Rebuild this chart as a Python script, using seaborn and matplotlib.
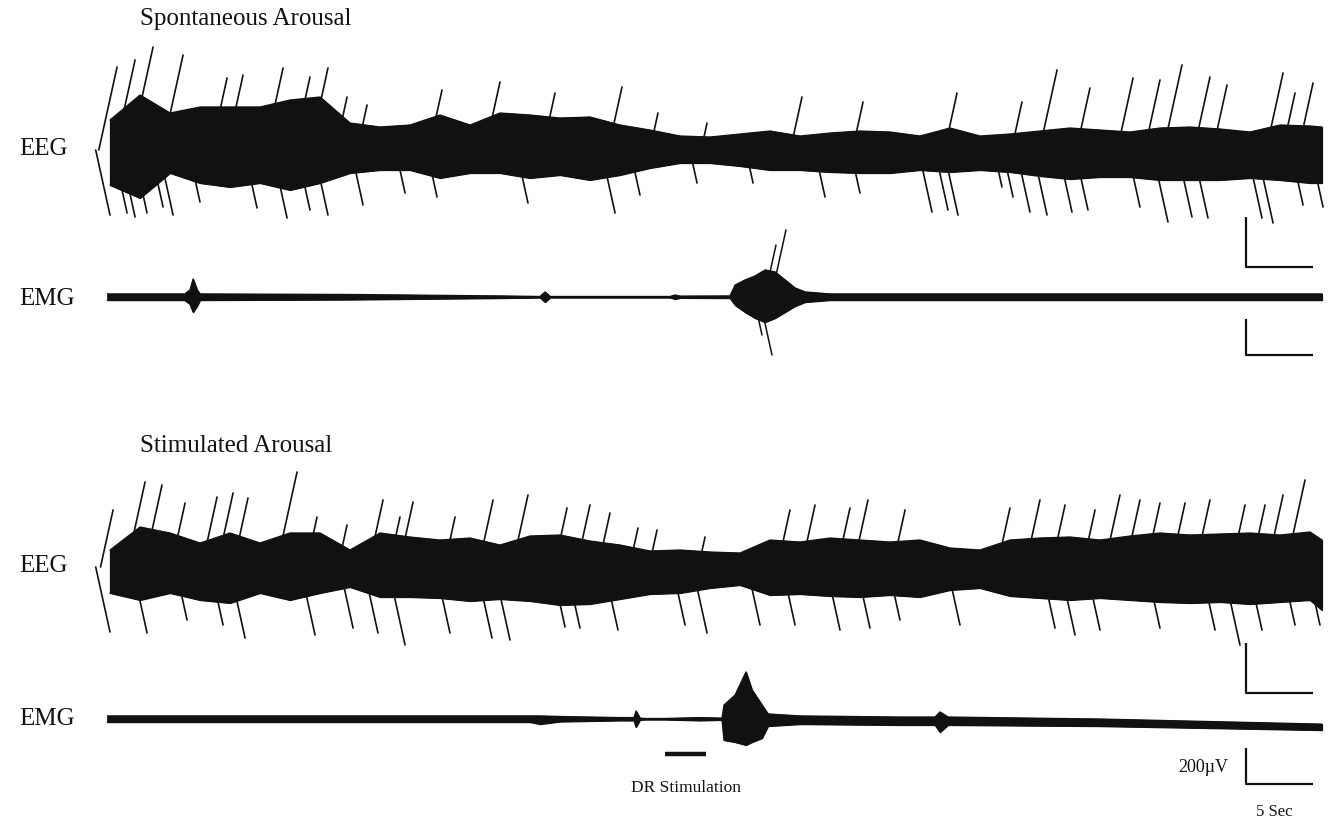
import numpy as np
import pandas as pd
import matplotlib
matplotlib.use("Agg")
import matplotlib.pyplot as plt
import seaborn as sns

# ---------------- data (time in s, amplitude in µV) ----------------
ENV_T = [0, 2.25, 4.5, 6.75, 9, 11.25, 13.5, 15.75, 18, 20.25, 22.5, 24.75, 27,
         29.25, 31.5, 33.75, 36, 38.25, 40.5, 42.75, 45, 47.25, 49.5, 51.75, 54,
         56.25, 58.5, 60.75, 63, 65.25, 67.5, 69.75, 72, 74.25, 76.5, 78.75, 81,
         83.25, 85.5, 87.75, 90, 90.9]

EEG1_TOP = [120, 220, 148, 172, 172, 172, 200, 212, 108, 92, 100, 140, 100, 148,
            140, 128, 132, 100, 80, 56, 52, 64, 76, 56, 68, 76, 72, 56, 88, 56,
            64, 76, 88, 80, 72, 88, 92, 84, 72, 100, 96, 92]
EEG1_BOT = [-140, -192, -92, -132, -148, -132, -160, -132, -92, -80, -80, -112,
            -92, -92, -112, -100, -120, -100, -72, -52, -52, -64, -80, -80, -88,
            -92, -92, -80, -88, -80, -88, -104, -116, -108, -108, -120, -120,
            -120, -112, -120, -132, -132]
EEG1_UP_T = [0.53, 1.88, 3.23, 5.48, 8.78, 9.98, 12.98, 15.0, 16.35, 17.78, 19.28,
             24.9, 29.25, 33.38, 38.4, 41.1, 44.78, 51.9, 56.48, 63.53, 68.4,
             71.03, 73.5, 76.73, 78.75, 80.4, 82.5, 83.78, 87.98, 88.88, 90.23]
EEG1_UP_A = [332, 360, 412, 380, 288, 300, 328, 292, 328, 212, 180, 240, 272, 228,
             252, 148, 108, 212, 192, 228, 192, 320, 248, 288, 280, 340, 292, 260,
             308, 228, 268]
EEG1_DN_T = [0.0, 1.28, 1.88, 2.78, 3.98, 4.73, 6.75, 11.03, 13.28, 15.0, 16.35,
             18.98, 22.13, 24.53, 31.35, 37.88, 39.75, 44.03, 48.23, 53.63, 56.25,
             61.65, 62.85, 63.6, 66.9, 67.73, 69.0, 70.28, 72.15, 73.35, 77.25,
             79.35, 81.15, 82.35, 86.4, 87.23, 89.48, 90.98]
EEG1_DN_A = [-260, -252, -268, -252, -228, -260, -208, -232, -272, -240, -260,
             -220, -172, -188, -212, -252, -180, -132, -132, -188, -172, -248,
             -240, -260, -148, -188, -248, -260, -248, -240, -228, -288, -268,
             -272, -272, -292, -220, -228]

EMG1_T = [-0.2, 5.6, 6.0, 6.23, 6.53, 6.75, 18.0, 29.25, 32.25, 32.63, 33.0, 42.0,
          42.38, 42.75, 46.5, 46.88, 47.63, 48.38, 49.13, 49.88, 50.63, 51.38,
          52.13, 54.0, 90.9]
EMG1_TOP = [17, 17, 39, 99, 39, 17, 14, 6, 3, 28, 3, 3, 11, 5, 6, 66, 94, 116, 149,
            138, 94, 50, 28, 17, 17]
EMG1_BOT = [-17, -17, -39, -83, -50, -17, -14, -6, -3, -28, -3, -3, -11, -5, -6,
            -44, -83, -116, -138, -116, -83, -50, -28, -17, -17]
EMG1_SPK_T = [48.9, 49.65, 49.95, 50.7]
EMG1_SPK_A = [-209, -319, 286, 369]

EEG2_TOP = [68, 160, 136, 96, 136, 96, 136, 136, 68, 136, 120, 108, 116, 88, 124,
            128, 104, 88, 64, 68, 60, 56, 108, 100, 116, 108, 100, 108, 76, 68,
            108, 116, 120, 108, 124, 136, 128, 132, 136, 128, 140, 108]
EEG2_BOT = [-104, -132, -104, -132, -144, -104, -132, -104, -80, -120, -120, -124,
            -136, -128, -136, -152, -148, -128, -108, -104, -84, -72, -112, -108,
            -116, -120, -112, -120, -92, -84, -116, -124, -132, -124, -132, -140,
            -144, -140, -148, -140, -132, -172]
EEG2_UP_T = [0.23, 2.63, 3.9, 5.63, 8.03, 9.23, 10.35, 14.03, 15.53, 17.78, 20.48,
             21.75, 22.73, 25.88, 28.73, 31.35, 34.28, 36.0, 37.5, 39.6, 41.03,
             44.63, 51.0, 52.88, 55.5, 56.85, 59.63, 67.5, 69.75, 71.63, 73.88,
             75.75, 77.25, 78.75, 80.63, 82.5, 85.13, 86.63, 87.98, 89.63]
EEG2_UP_A = [228, 340, 328, 256, 280, 296, 276, 380, 200, 168, 268, 200, 260, 200,
             268, 288, 236, 248, 216, 156, 148, 120, 228, 248, 236, 268, 228, 236,
             268, 248, 228, 288, 268, 256, 256, 268, 248, 248, 288, 348]
EEG2_DN_T = [0.0, 2.78, 5.78, 8.48, 10.13, 15.38, 18.23, 20.1, 22.13, 25.5, 28.65,
             30.0, 34.13, 35.25, 38.1, 43.13, 44.78, 48.75, 51.38, 54.75, 57.0,
             59.25, 63.75, 70.88, 72.38, 74.25, 78.75, 82.88, 84.75, 86.4, 88.88,
             90.75]
EEG2_DN_A = [-260, -264, -212, -232, -284, -272, -244, -264, -312, -264, -284,
             -292, -240, -244, -252, -232, -264, -232, -232, -252, -244, -212,
             -232, -244, -272, -252, -244, -252, -312, -252, -232, -232]

EMG2_T = [-0.2, 14.25, 31.5, 32.25, 33.75, 38.25, 39.3, 39.45, 39.75, 40.13, 41.63,
          44.25, 45.9, 46.05, 46.88, 47.7, 48.15, 48.9, 49.35, 51.75, 59.25, 61.88,
          62.25, 62.85, 74.25, 90.9]
EMG2_TOP = [17, 17, 17, 17, 14, 8, 8, 44, 5, 3, 3, 8, 5, 77, 132, 259, 160, 77, 28,
            17, 11, 11, 39, 11, 0, -28]
EMG2_BOT = [-17, -17, -17, -28, -14, -8, -8, -44, -5, -3, -3, -8, -5, -116, -127,
            -143, -127, -105, -39, -28, -33, -33, -72, -33, -39, -61]

STIM_ON, STIM_OFF = 41.6, 44.7
SCALE_T = 5        # s
SCALE_UV = 200     # µV

# ---------------- layout ----------------
W, H = 1334, 819
PX_PER_S = 13.333
T0_PX = 110

sns.set_theme(style="white")
plt.rcParams['font.family'] = ['Liberation Serif', 'DejaVu Serif']
INK = "#111111"

fig = plt.figure(figsize=(W / 100, H / 100), dpi=100)
fig.patch.set_facecolor("white")


def make_ax(center, top, bottom, uv_per_px):
    ax = fig.add_axes([0, (H - bottom) / H, 1, (bottom - top) / H])
    ax.set_xlim(-T0_PX / PX_PER_S, (W - T0_PX) / PX_PER_S)
    ax.set_ylim(-(bottom - center) * uv_per_px, (center - top) * uv_per_px)
    ax.axis("off")
    ax.patch.set_alpha(0)
    ax.uvpp = uv_per_px
    return ax


def band(ax, t, top, bot):
    ax.fill_between(t, bot, top, color=INK, lw=0.9, edgecolor=INK)
    df = pd.DataFrame({"t": list(t) + list(t),
                       "uv": list(top) + list(bot),
                       "edge": ["top"] * len(t) + ["bot"] * len(t)})
    sns.lineplot(data=df, x="t", y="uv", units="edge", estimator=None,
                 sort=False, color=INK, lw=0.9, ax=ax, legend=False)


def spikes(ax, ts, amps, lw=1.2):
    rows = []
    for i, (t, a) in enumerate(zip(ts, amps)):
        slant = 0.22 * abs(a) / ax.uvpp / PX_PER_S
        rows.append((i, t - slant, 0.0))
        rows.append((i, t, a))
    df = pd.DataFrame(rows, columns=["id", "t", "uv"])
    sns.lineplot(data=df, x="t", y="uv", units="id", estimator=None, sort=False,
                 color=INK, lw=lw, ax=ax, legend=False)


def scalebar(ax, corner_px_y, center_px):
    t0 = (1246 - T0_PX) / PX_PER_S
    y0 = -(corner_px_y - center_px) * ax.uvpp
    ax.plot([t0, t0, t0 + SCALE_T], [y0 + SCALE_UV, y0, y0], color=INK, lw=1.6,
            solid_capstyle="butt", clip_on=False)


# EEG 1
ax1 = make_ax(150, 30, 272, 4.0)
band(ax1, ENV_T, EEG1_TOP, EEG1_BOT)
spikes(ax1, EEG1_UP_T + EEG1_DN_T, EEG1_UP_A + EEG1_DN_A)
scalebar(ax1, 267, 150)

# EMG 1
ax2 = make_ax(297, 222, 366, 5.5)
band(ax2, EMG1_T, EMG1_TOP, EMG1_BOT)
spikes(ax2, EMG1_SPK_T, EMG1_SPK_A, lw=1.1)
scalebar(ax2, 355, 297)

# EEG 2
ax3 = make_ax(567, 455, 700, 4.0)
band(ax3, ENV_T, EEG2_TOP, EEG2_BOT)
spikes(ax3, EEG2_UP_T + EEG2_DN_T, EEG2_UP_A + EEG2_DN_A)
scalebar(ax3, 693, 567)

# EMG 2
ax4 = make_ax(719, 640, 819, 5.5)
band(ax4, EMG2_T, EMG2_TOP, EMG2_BOT)
scalebar(ax4, 784, 719)
stim_y = -(754 - 719) * ax4.uvpp
ax4.plot([STIM_ON, STIM_OFF], [stim_y, stim_y], color=INK, lw=3.2,
         solid_capstyle="butt")


def ftext(x, y, s, size, ha="left"):
    fig.text(x / W, 1 - y / H, s, fontsize=size, ha=ha, va="center", color=INK)


ftext(140, 19, "Spontaneous Arousal", 18)
ftext(140, 446, "Stimulated Arousal", 18)
ftext(19, 149, "EEG", 18)
ftext(19, 299, "EMG", 18)
ftext(19, 566, "EEG", 18)
ftext(19, 719, "EMG", 18)
ftext(686, 788, "DR Stimulation", 12.5, ha="center")
ftext(1228, 767, "200\u00b5V", 13, ha="right")
ftext(1274, 812, "5 Sec", 12, ha="center")

fig.savefig("out.png", dpi=100, facecolor="white")
